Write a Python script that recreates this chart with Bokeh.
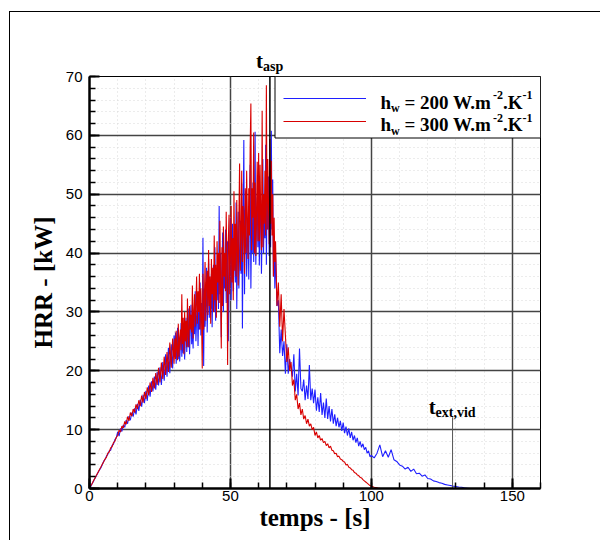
import numpy as np
from bokeh.plotting import figure
from bokeh.models import (Range1d, SingleIntervalTicker, Span, Label, Legend,
                          LegendItem, BoxAnnotation, InlineStyleSheet)
from bokeh.core.properties import value
from bokeh.embed import file_html
from bokeh.resources import INLINE

# ---------------- data ----------------
# Each record is split in pieces: (first time [s], time step [s], HRR values [kW])

# h_w = 200 W.m-2.K-1
hrr_200_a = [  # t = 0 .. 30 s, every 0.5 s
    0.0, 0.4, 0.9, 1.3, 1.8, 2.2, 2.7, 3.1, 3.5, 4.0,
    4.6, 4.9, 5.5, 5.8, 6.4, 6.5, 7.3, 7.5, 8.3, 8.6,
    9.6, 8.9, 10.2, 9.7, 10.8, 10.4, 11.6, 11.0, 12.3, 11.6,
    12.9, 12.2, 13.6, 12.6, 14.4, 13.2, 15.1, 13.9, 15.9, 14.5,
    16.6, 14.9, 17.5, 15.6, 18.2, 16.5, 19.0, 16.8, 19.8, 17.5,
    20.6, 17.6, 21.5, 18.3, 22.8, 19.0, 23.9, 19.6, 24.5, 20.4,
    26.0,
]
hrr_200_b = [  # t = 30.25 .. 66 s, every 0.25 s
    22.8, 26.5, 21.2, 24.0, 27.3, 22.0, 25.2, 21.6,
    24.5, 28.1, 22.4, 26.0, 23.0, 27.6, 21.9, 25.4,
    29.0, 23.2, 26.8, 24.0, 30.6, 22.8, 27.5, 31.2,
    24.5, 28.3, 23.8, 30.0, 26.2, 33.5, 25.0, 29.0,
    32.0, 24.2, 30.5, 27.0, 35.0, 26.0, 31.5, 28.0,
    42.6, 20.8, 34.0, 27.5, 31.0, 37.5, 26.5, 33.0,
    39.0, 29.0, 35.5, 30.5, 36.5, 27.4, 33.8, 38.0,
    30.0, 41.0, 28.5, 36.0, 32.0, 39.5, 30.5, 48.0,
    33.0, 40.0, 25.7, 37.0, 43.5, 30.0, 38.5, 34.0,
    44.0, 31.5, 39.0, 42.0, 25.0, 36.0, 40.5, 46.0,
    32.0, 41.0, 45.0, 33.5, 38.0, 44.0, 35.0, 48.6,
    30.5, 42.0, 47.0, 34.0, 40.0, 45.5, 36.5, 51.8,
    27.2, 44.0, 59.2, 33.0, 47.0, 50.5, 36.0, 42.0,
    46.0, 35.5, 49.0, 55.0, 34.0, 44.5, 40.0, 52.0,
    38.5, 47.0, 60.6, 38.0, 45.0, 49.5, 41.0, 53.3,
    37.9, 46.5, 49.0, 36.5, 44.0, 56.0, 40.0, 48.0,
    42.5, 58.4, 38.0, 50.0, 44.0, 53.0, 39.5, 47.5,
    41.0, 60.8, 44.0, 52.5, 36.0, 42.0, 34.0, 40.0,
]
hrr_200_c = [  # t = 66.5 .. 100 s, every 0.5 s
    31.0, 32.0, 23.0, 27.0, 22.5, 25.0, 19.5,
    24.5, 19.5, 22.0, 20.5, 19.0, 22.8, 16.5, 19.5, 15.8, 23.8,
    17.0, 16.5, 18.5, 15.0, 17.5, 15.2, 21.0, 15.0, 17.0, 14.5,
    16.8, 13.2, 15.5, 13.0, 16.2, 12.5, 14.6, 12.0, 15.3, 11.8,
    14.0, 11.4, 13.5, 11.0, 12.6, 10.6, 12.0, 10.4, 11.5, 9.8,
    11.2, 9.4, 10.5, 9.0, 10.2, 8.6, 9.6, 8.2, 9.0, 7.8,
    8.6, 7.2, 8.0, 7.0, 7.6, 6.6, 7.0, 6.0, 6.4, 5.4,
    5.6,
]
hrr_200_d = [  # t = 101 .. 136 s, every 1 s
    5.2, 6.0, 7.4, 5.4, 6.4, 5.3, 6.6, 4.9, 4.6, 4.0,
    3.8, 3.3, 3.6, 2.9, 3.3, 2.5, 2.6, 2.1, 2.3, 1.7,
    1.6, 1.3, 1.2, 1.0, 0.9, 0.7, 0.6, 0.5, 0.4, 0.35,
    0.25, 0.2, 0.1, 0.05, 0.0, 0.0,
]

# h_w = 300 W.m-2.K-1
hrr_300_a = [  # t = 0 .. 30 s, every 0.5 s
    0.0, 0.5, 0.9, 1.4, 1.8, 2.3, 2.7, 3.2, 3.6, 4.1,
    4.5, 5.0, 5.3, 6.0, 6.2, 6.9, 7.1, 7.8, 8.0, 8.7,
    9.0, 9.9, 9.6, 10.6, 10.3, 11.4, 10.9, 12.2, 11.5, 12.9,
    12.3, 13.5, 12.9, 14.3, 13.5, 15.0, 14.0, 15.8, 14.6, 16.4,
    15.2, 17.2, 15.8, 18.0, 16.4, 18.8, 17.0, 19.6, 17.6, 20.5,
    18.0, 21.4, 18.6, 22.4, 19.3, 23.2, 19.8, 24.8, 20.5, 25.5,
    21.2,
]
hrr_300_b = [  # t = 30.25 .. 66 s, every 0.25 s
    25.5, 22.0, 26.8, 23.5, 21.8, 28.0, 22.4, 25.6,
    27.0, 23.5, 33.0, 24.5, 29.0, 22.8, 30.0, 25.0,
    28.5, 24.0, 32.3, 26.0, 24.0, 31.0, 27.0, 29.5,
    26.5, 34.5, 25.5, 30.0, 33.0, 27.5, 31.0, 36.0,
    28.0, 33.5, 30.0, 36.5, 27.0, 34.0, 29.0, 20.4,
    36.5, 27.0, 32.0, 38.5, 28.5, 35.0, 37.0, 29.5,
    40.5, 31.0, 36.0, 28.0, 39.0, 33.0, 37.5, 30.0,
    43.0, 32.0, 38.0, 29.0, 42.0, 35.0, 40.0, 31.5,
    45.5, 34.0, 23.8, 41.0, 31.0, 44.5, 36.0, 40.0,
    33.5, 47.0, 38.0, 21.0, 42.0, 46.5, 33.0, 39.5,
    48.0, 35.0, 42.5, 32.0, 50.5, 37.0, 45.0, 36.0,
    49.0, 40.0, 34.5, 46.0, 55.2, 37.0, 43.0, 54.0,
    38.5, 48.0, 44.0, 36.5, 51.0, 40.0, 54.0, 46.0,
    39.0, 51.0, 43.0, 58.0, 65.4, 40.5, 51.0, 46.0,
    60.5, 40.0, 52.0, 39.5, 47.0, 55.5, 42.0, 57.0,
    42.0, 55.0, 46.0, 40.5, 64.2, 41.0, 50.0, 45.0,
    54.0, 43.0, 68.5, 44.0, 56.0, 48.0, 41.5, 59.4,
    45.0, 55.7, 43.0, 50.0, 36.0, 46.0, 38.5, 42.0,
]
hrr_300_c = [  # t = 66.5 .. 105 s, every 0.5 s
    31.0, 35.0, 27.5, 33.0, 25.0, 30.5, 26.0,
    21.5, 24.0, 20.0, 21.5, 17.5, 18.5, 15.0, 16.0, 13.5, 14.5,
    12.5, 13.5, 11.8, 12.4, 11.0, 11.8, 10.6, 11.0, 10.0, 10.4,
    9.0, 9.6, 8.6, 9.0, 8.2, 8.5, 7.8, 8.0, 7.3, 7.6,
    6.9, 7.2, 6.5, 6.4, 5.9, 6.0, 5.4, 5.5, 5.0, 4.9,
    4.6, 4.5, 4.0, 4.1, 3.6, 3.5, 3.2, 3.1, 2.7, 2.6,
    2.3, 2.2, 1.9, 1.8, 1.5, 1.3, 1.1, 0.9, 0.7, 0.5,
    0.4, 0.3, 0.2, 0.15, 0.1, 0.05, 0.02, 0.0, 0.0, 0.0,
    0.0,
]

PIECES_200 = [(0.0, 0.5, hrr_200_a), (30.25, 0.25, hrr_200_b),
              (66.5, 0.5, hrr_200_c), (101.0, 1.0, hrr_200_d)]
PIECES_300 = [(0.0, 0.5, hrr_300_a), (30.25, 0.25, hrr_300_b),
              (66.5, 0.5, hrr_300_c)]

HW_VALUES = [200, 300]
SERIES_COLORS = ["#1f1fff", "#d80000"]
T_ASP = 64.0        # s
T_EXT_VID = 128.8   # s
T_EXT_VID_MARK = 12.1  # kW, top of the t_ext,vid marker


def assemble(pieces):
    ts, ys = [], []
    for t0, step, vals in pieces:
        ts += [t0 + i * step for i in range(len(vals))]
        ys += list(vals)
    return ts, ys


t_200, y_200 = assemble(PIECES_200)
t_300, y_300 = assemble(PIECES_300)

# ---------------- figure ----------------
SERIF = "Liberation Serif"
SANS = "Liberation Sans"
ML, MR, MT, MB = 89, 60, 76, 52
W, H = 600, 540

border_css = InlineStyleSheet(css="""
:host { position: relative; }
:host::after { content: ""; position: absolute; left: 9px; top: 11px;
  right: 0; bottom: 0; border-left: 1.5px solid black;
  border-top: 1.5px solid black; pointer-events: none; }
""")

p = figure(width=W, height=H, output_backend="svg", toolbar_location=None,
           x_range=Range1d(0, 160), y_range=Range1d(0, 70),
           min_border_left=ML, min_border_right=MR,
           min_border_top=MT, min_border_bottom=MB,
           background_fill_color="white", border_fill_color="white",
           stylesheets=[border_css])
p.outline_line_color = "black"
p.outline_line_width = 1

xt = SingleIntervalTicker(interval=50, num_minor_ticks=5)
yt = SingleIntervalTicker(interval=10, num_minor_ticks=5)
p.xaxis.ticker = xt
p.yaxis.ticker = yt
p.xgrid.ticker = xt
p.ygrid.ticker = yt

for ax in (p.xaxis, p.yaxis):
    ax.axis_line_color = "black"
    ax.axis_line_width = 2.5
    ax.major_tick_in = 10
    ax.major_tick_out = 0
    ax.minor_tick_in = 6
    ax.minor_tick_out = 0
    ax.major_tick_line_width = 2
    ax.minor_tick_line_width = 1.5
    ax.major_tick_line_color = "black"
    ax.minor_tick_line_color = "black"
    ax.major_label_text_font = SANS
    ax.major_label_text_font_size = "15px"
    ax.major_label_text_color = "black"
    ax.axis_label_text_font = SERIF
    ax.axis_label_text_font_style = "bold"
    ax.axis_label_text_font_size = "25px"
    ax.axis_label_text_color = "black"

p.xaxis.axis_label = "temps - [s]"
p.yaxis.axis_label = "HRR - [kW]"
p.xaxis.major_label_standoff = 2
p.xaxis.axis_label_standoff = 0
p.yaxis.major_label_standoff = 7
p.yaxis.axis_label_standoff = 6

p.grid.grid_line_color = "#444444"
p.grid.grid_line_width = 1.5
p.grid.minor_grid_line_color = "#d9d9d9"
p.grid.minor_grid_line_dash = "1 3"
p.grid.minor_grid_line_width = 1

r200 = p.line(t_200, y_200, line_color=SERIES_COLORS[0], line_width=1.1)
r300 = p.line(t_300, y_300, line_color=SERIES_COLORS[1], line_width=1.1)

p.add_layout(Span(location=T_ASP, dimension="height", line_color="black",
                  line_width=1.5))
p.segment(x0=[T_EXT_VID], y0=[0], x1=[T_EXT_VID], y1=[T_EXT_VID_MARK],
          line_color="#555555", line_width=1)

# page-pixel helpers (canvas origin = page origin)
FW, FH = W - ML - MR, H - MT - MB


def dx(px):
    return (px - ML) / FW * 160


def dy(py):
    return (MT + FH - py) / FH * 70


# legend box (white, black border) ; the Legend itself is transparent
p.add_layout(BoxAnnotation(left=dx(274.5), right=160, top=70, bottom=dy(137.5),
                           fill_color="white", fill_alpha=1,
                           line_color="black", line_width=1, line_alpha=1))

legend = Legend(items=[LegendItem(label=value(" "), renderers=[r200]),
                       LegendItem(label=value(" "), renderers=[r300])],
                location="top_right", margin=0, padding=11, spacing=1,
                glyph_width=83, glyph_height=22, label_width=150,
                label_height=22, label_standoff=13,
                border_line_alpha=0, background_fill_alpha=0)
p.add_layout(legend)


def make_label(text, page_x, page_y, size):
    return Label(x=page_x, y=page_y, x_units="canvas", y_units="canvas",
                 text=text, text_font=SERIF, text_font_size=f"{size}px",
                 text_font_style="bold", text_color="black",
                 text_baseline="alphabetic", text_align="left",
                 level="overlay")


def put(text, page_x, page_y, size):
    p.add_layout(make_label(text, page_x, page_y, size))


for hw, base in zip(HW_VALUES, [101.7, 124.3]):
    x0 = 380
    put("h", x0, base, 19)
    put("w", x0 + 10.6, base + 6, 12)
    put(f"= {hw} W.m", x0 + 24.0, base, 19)
    put("-2", x0 + 112.5, base - 7, 12)
    put(".K", x0 + 122.5, base, 19)
    put("-1", x0 + 142, base - 7, 12)

put("t", 428.3, 406.7, 21)
put("ext,vid", 435, 412.3, 14)

# t_asp sits above the frame: put it in the top side panel (not clipped)
p.add_layout(make_label("t", 255.6, 60, 21), "above")
p.add_layout(make_label("asp", 262.5, 66, 14), "above")

open("out.html", "w").write(file_html(p, INLINE))
